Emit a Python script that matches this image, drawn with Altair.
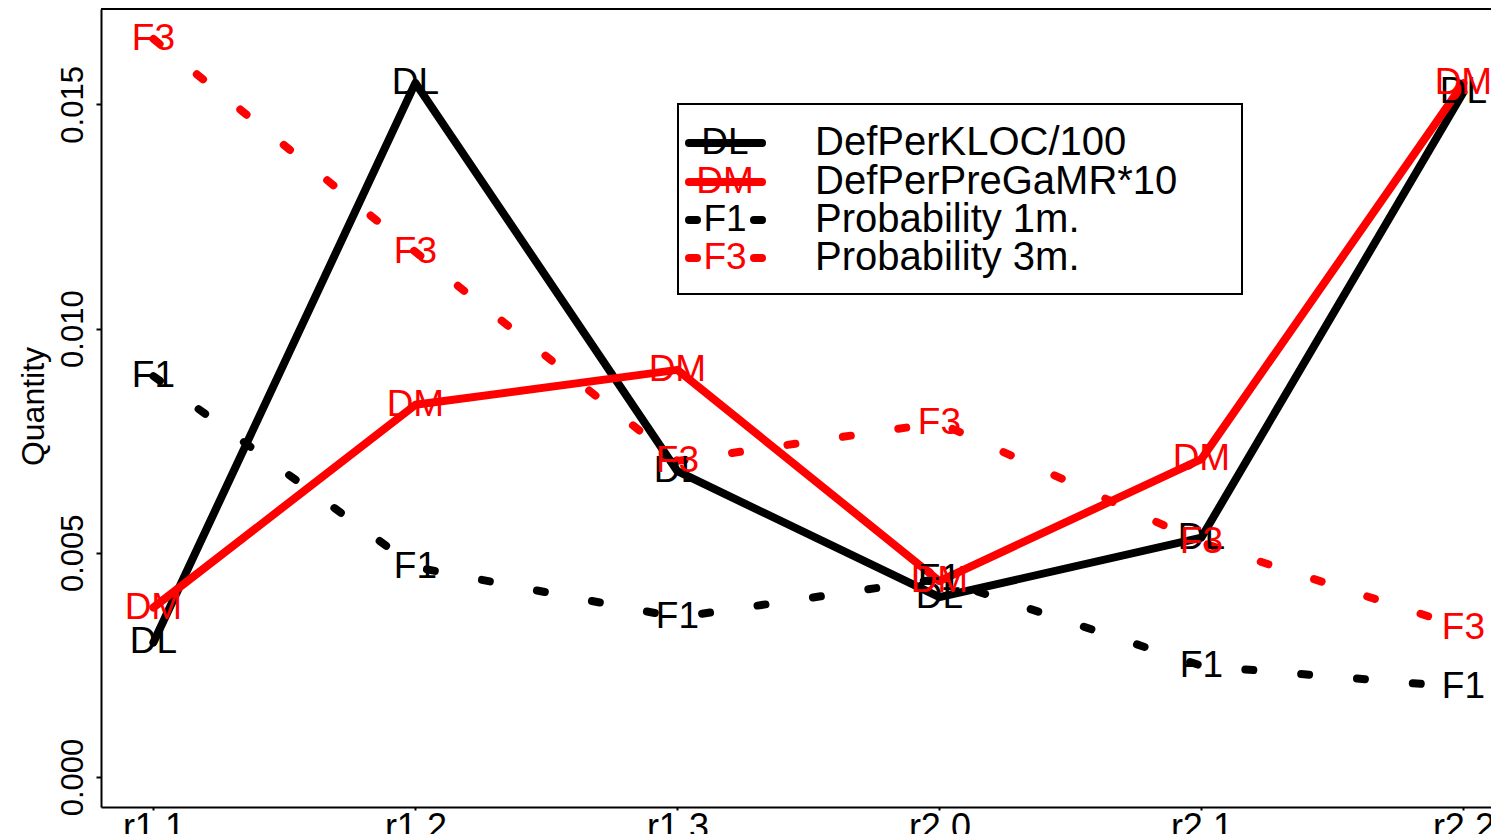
import altair as alt
import pandas as pd

# ---- data ----
categories = ["r1.1", "r1.2", "r1.3", "r2.0", "r2.1", "r2.2"]
dl_values = [0.00300, 0.01548, 0.00682, 0.00401, 0.00534, 0.01527]
dm_values = [0.00378, 0.00830, 0.00908, 0.00437, 0.00709, 0.01547]
f1_values = [0.00894, 0.00468, 0.00356, 0.00442, 0.00248, 0.00200]
f3_values = [0.01646, 0.01171, 0.00705, 0.00790, 0.00523, 0.00333]

series_codes = ["DL", "DM", "F1", "F3"]
series_names = ["DefPerKLOC/100", "DefPerPreGaMR*10", "Probability 1m.", "Probability 3m."]
series_values = {"DL": dl_values, "DM": dm_values, "F1": f1_values, "F3": f3_values}
series_colors = {"DL": "#000000", "DM": "#ff0000", "F1": "#000000", "F3": "#ff0000"}
series_dashed = {"DL": False, "DM": False, "F1": True, "F3": True}
draw_order = ["DL", "F1", "DM", "F3"]

y_ticks = [0.000, 0.005, 0.010, 0.015]

rows = []
for code in series_codes:
    for i, (cat, v) in enumerate(zip(categories, series_values[code])):
        rows.append({"series": code, "idx": i + 1, "cat": cat, "value": v})
df = pd.DataFrame(rows)
one = pd.DataFrame({"k": [0]})

# ---- layout ----
W, H = 1390, 798
FONT = "Liberation Sans, Arial, Helvetica, sans-serif"
LW = 8
DASH = [8, 48]
LEG_DASH = [8, 57]

label_expr = "[" + ",".join("'%s'" % c for c in categories) + "][datum.value - 1]"

xenc = alt.X(
    "idx:Q",
    scale=alt.Scale(domain=[0.8, 0.8 + W / 262.0], nice=False, zero=False),
    axis=alt.Axis(values=list(range(1, len(categories) + 1)), labelExpr=label_expr,
                  title=None, grid=False, labelFlush=False, labelOverlap=False,
                  labelFont=FONT, labelFontSize=36, labelColor="black",
                  labelBaseline="top", labelPadding=0, tickSize=3, tickWidth=2,
                  tickColor="black", domainColor="black", domainWidth=2),
)
yenc = alt.Y(
    "value:Q",
    scale=alt.Scale(domain=[-0.000669, 0.017128], nice=False, zero=False),
    axis=alt.Axis(values=y_ticks, format=".3f", title="Quantity", grid=False,
                  labelFlush=False, labelOverlap=False, labelAngle=270,
                  labelAlign="center", labelBaseline="alphabetic", labelPadding=14,
                  labelFont=FONT, labelFontSize=31, labelColor="black",
                  tickSize=5, tickWidth=2, tickColor="black",
                  domainColor="black", domainWidth=2,
                  titleFont=FONT, titleFontSize=32, titleFontWeight="normal",
                  titleColor="black", titleAngle=270, titleAlign="center",
                  titleBaseline="alphabetic", titleX=-58, titleY=397),
)

layers = []
# lines
for code in draw_order:
    kw = dict(color=series_colors[code], strokeWidth=LW, strokeJoin="round", strokeCap="round")
    if series_dashed[code]:
        kw.update(strokeDash=DASH)
    layers.append(
        alt.Chart(df[df.series == code]).mark_line(**kw).encode(x=xenc, y=yenc, order="idx:Q")
    )
# point labels
for code in draw_order:
    layers.append(
        alt.Chart(df[df.series == code]).mark_text(
            font=FONT, fontSize=37, align="center", baseline="middle",
            color=series_colors[code]
        ).encode(x=xenc, y=yenc, text="series:N")
    )

# top border of the frame
layers.append(
    alt.Chart(one).mark_rule(color="black", strokeWidth=2).encode(
        x=alt.value(0), x2=alt.value(W), y=alt.value(0)
    )
)

# legend box
layers.append(
    alt.Chart(one).mark_rect(fill="white", stroke="black", strokeWidth=2).encode(
        x=alt.value(577), x2=alt.value(1141), y=alt.value(95), y2=alt.value(285)
    )
)
legend_y = [134, 173, 211, 249]
for code, name, yy in zip(series_codes, series_names, legend_y):
    kw = dict(color=series_colors[code], strokeWidth=LW, strokeCap="round")
    if series_dashed[code]:
        kw.update(strokeDash=LEG_DASH)
    layers.append(
        alt.Chart(one).mark_rule(**kw).encode(
            x=alt.value(588), x2=alt.value(661), y=alt.value(yy)
        )
    )
    layers.append(
        alt.Chart(one).mark_text(font=FONT, fontSize=37, align="center", baseline="middle",
                                 color=series_colors[code], text=code).encode(
            x=alt.value(624), y=alt.value(yy)
        )
    )
    layers.append(
        alt.Chart(one).mark_text(font=FONT, fontSize=40, align="left", baseline="middle",
                                 color="black", text=name).encode(
            x=alt.value(714), y=alt.value(yy)
        )
    )

chart = alt.layer(*layers).properties(
    width=W, height=H,
    autosize=alt.AutoSizeParams(type="none"),
    padding={"left": 93, "top": 1, "right": 0, "bottom": 27},
    background="white",
).configure_view(stroke=None)

chart.save("out.html", embed_options={"renderer": "svg", "actions": False})
